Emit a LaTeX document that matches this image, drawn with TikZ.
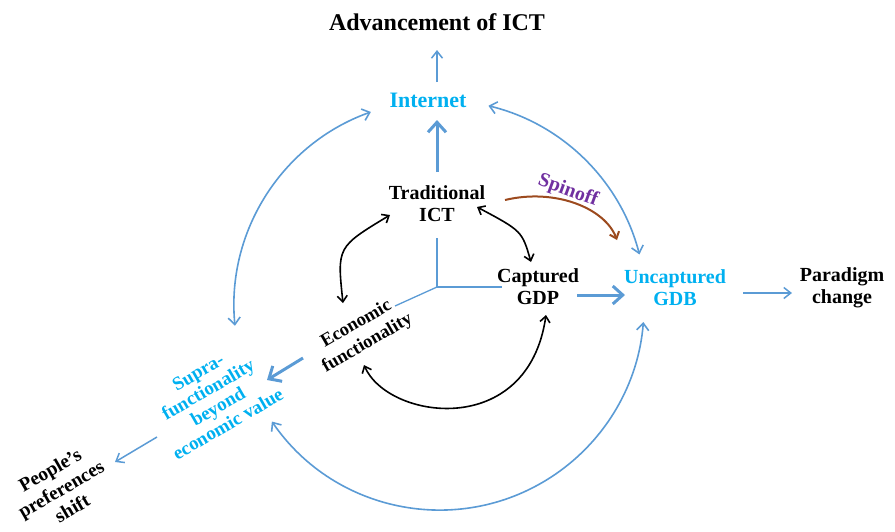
\documentclass[tikz,border=0pt]{standalone}
\usepackage{fontspec}
\setmainfont{Liberation Serif}
\usetikzlibrary{arrows.meta}
\definecolor{lblue}{HTML}{5B9BD5}
\definecolor{tcyan}{HTML}{00B0F0}
\definecolor{spurple}{HTML}{7030A0}
\definecolor{sbrown}{HTML}{9C4A1E}
\begin{document}
\begin{tikzpicture}[x=1pt,y=-1pt,
  lbl/.style={font=\bfseries\fontsize{20}{22}\selectfont, align=center, inner sep=0pt},
  cytext/.style={lbl, text=tcyan},
  titletext/.style={font=\bfseries\fontsize{24}{26}\selectfont, inner sep=0pt},
  thinb/.style={draw=lblue, line width=1.5pt, -{Straight Barb[length=7pt,width=11pt]}},
  thickb/.style={draw=lblue, line width=3pt, -{Straight Barb[length=10pt,width=18pt]}},
  arcb/.style={draw=lblue, line width=1.6pt, {Straight Barb[length=7pt,width=12pt]}-{Straight Barb[length=7pt,width=12pt]}},
  arck/.style={draw=black, line width=1.6pt, {Straight Barb[length=6pt,width=10pt]}-{Straight Barb[length=6pt,width=10pt]}},
  axisline/.style={draw=lblue, line width=1.3pt},
  spin/.style={draw=sbrown, line width=2pt, -{Straight Barb[length=6pt,width=10pt]}}
]
\useasboundingbox (0,0) rectangle (895,531);

% nodes
\node[titletext] (adv) at (437,22) {Advancement of ICT};
\node[cytext, font=\bfseries\fontsize{22}{24}\selectfont] (int) at (428,100) {Internet};
\node[lbl] (tict) at (437,204) {Traditional\\ICT};
\node[lbl] (cgdp) at (538,287) {Captured\\GDP};
\node[cytext] (ugdb) at (675,288) {Uncaptured\\GDB};
\node[lbl] (par) at (842,288) {Paradigm\\change};
\node[lbl, font=\bfseries\fontsize{18.5}{22}\selectfont, rotate=30] (eco) at (362,334) {Economic\\functionality};
\node[cytext, font=\bfseries\fontsize{19}{20}\selectfont, rotate=30] (sup) at (213,398) {Supra-\\functionality\\beyond\\economic value};
\node[lbl, font=\bfseries\fontsize{19.5}{22}\selectfont, rotate=30] (peo) at (61,489) {People's\\preferences\\shift};
\node[lbl, text=spurple, font=\bfseries\fontsize{20}{22}\selectfont, rotate=-20] (spl) at (568,191) {Spinoff};

% coordinates for connector ends
\coordinate (O) at (437,287);
\coordinate (axU) at (437,238);
\coordinate (axR) at (502,287);
\coordinate (axL) at (395,306);
\coordinate (C) at (440,306);

\coordinate (intTop) at (437,82);
\coordinate (advBot) at (437,50);
\coordinate (tictTop) at (437,172);
\coordinate (intBot) at (437,120);
\coordinate (cgdpR) at (577,295);
\coordinate (ugdbL) at (625,295);
\coordinate (ugdbR) at (743,293);
\coordinate (parL) at (792,293);
\coordinate (ecoL) at (303,358);
\coordinate (supR) at (267,380);
\coordinate (supL) at (157,437);
\coordinate (peoR) at (115,462);

\coordinate (tictL) at (390,215);
\coordinate (ecoT) at (343,303);
\coordinate (tictR) at (477,207);
\coordinate (cgdpT) at (531,262);
\coordinate (ecoB) at (364,365);
\coordinate (cgdpB) at (546,315);
\coordinate (spS) at (505,200);
\coordinate (spE) at (617,240);

% axes
\draw[axisline] (axU) -- (O) -- (axR);
\draw[axisline] (O) -- (axL);

% straight arrows
\draw[thinb] (intTop) -- (advBot);
\draw[thickb] (tictTop) -- (intBot);
\draw[thickb] (cgdpR) -- (ugdbL);
\draw[thinb] (ugdbR) -- (parL);
\draw[thickb] (ecoL) -- (supR);
\draw[thinb] (supL) -- (peoR);

% black double arrows
\draw[arck] (tictL) .. controls (337,247) .. (ecoT);
\draw[arck] (tictR) .. controls (522,231) .. (cgdpT);
\draw[arck] (ecoB) .. controls (388,420) and (528,440) .. (cgdpB);

% spinoff
\draw[spin] (spS) .. controls (555,188) and (605,208) .. (spE);

% outer blue arcs
\draw[arcb] ([shift={(109.6:206pt)}]C) arc[start angle=109.6, end angle=185.5, radius=206pt];
\draw[arcb] ([shift={(76.4:206pt)}]C) arc[start angle=76.4, end angle=14.5, radius=206pt];
\draw[arcb] ([shift={(214.5:204pt)}]C) arc[start angle=214.5, end angle=355.5, radius=204pt];
\end{tikzpicture}
\end{document}
